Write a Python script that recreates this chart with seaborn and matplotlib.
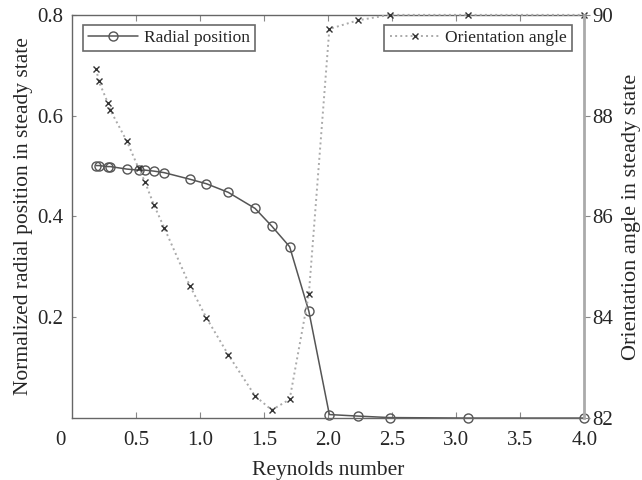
import matplotlib
matplotlib.use("Agg")
import matplotlib.pyplot as plt
import matplotlib.transforms as mtransforms
import seaborn as sns
import pandas as pd

# Reynolds numbers (shared by both series)
reynolds = [0.19, 0.21, 0.28, 0.30, 0.43, 0.52, 0.57, 0.64, 0.72, 0.92, 1.05,
            1.22, 1.43, 1.56, 1.70, 1.85, 2.01, 2.23, 2.48, 3.09, 4.0]
# normalized radial position (left axis)
radial = [0.501, 0.501, 0.499, 0.499, 0.494, 0.492, 0.492, 0.490, 0.487, 0.474, 0.465,
          0.448, 0.416, 0.381, 0.340, 0.212, 0.007, 0.004, 0.001, 0.0, 0.0]
# orientation angle in degrees (right axis)
angle = [88.93, 88.68, 88.26, 88.11, 87.49, 86.96, 86.69, 86.23, 85.78, 84.63, 83.99,
         83.26, 82.44, 82.16, 82.37, 84.46, 89.72, 89.89, 90.0, 90.0, 90.0]

x_ticks = [0.5, 1.0, 1.5, 2.0, 2.5, 3.0, 3.5, 4.0]
x_labels = ["0.5", "1.0", "1.5", "2.0", "2.5", "3.0", "3.5", "4.0"]
y_ticks = [0.2, 0.4, 0.6, 0.8]
y_labels = ["0.2", "0.4", "0.6", "0.8"]
y2_ticks = [82, 84, 86, 88, 90]

df = pd.DataFrame({"Re": reynolds, "radial": radial, "angle": angle})

sns.set_style("ticks")
plt.rcParams["font.family"] = ["Liberation Serif", "DejaVu Serif"]

fig = plt.figure(figsize=(6.42, 4.8), dpi=100)
ax = fig.add_axes([0.112, 0.129, 0.798, 0.840])
ax2 = ax.twinx()

sns.lineplot(data=df, x="Re", y="radial", ax=ax, color="#555555", lw=1.1,
             marker="o", markersize=6.5, markerfacecolor="none",
             markeredgecolor="#555555", markeredgewidth=1.0,
             label="Radial position", clip_on=False)
sns.lineplot(data=df, x="Re", y="angle", ax=ax2, color="#aaaaaa", lw=1.4,
             linestyle=":", marker="x", markersize=5,
             markeredgecolor="#333333", markeredgewidth=1.0,
             label="Orientation angle", clip_on=False)

ax.set_xlim(0, 4.0)
ax.set_ylim(0, 0.8)
ax2.set_ylim(82, 90)
ax.set_xticks(x_ticks)
ax.set_xticklabels(x_labels)
ax.set_yticks(y_ticks)
ax.set_yticklabels(y_labels)
ax2.set_yticks(y2_ticks)

ax.tick_params(axis="x", direction="in", top=True, length=4, color="#888888",
               labelsize=15, pad=9)
ax.tick_params(axis="y", direction="in", length=3, color="#888888", labelsize=15, pad=6)
ax2.tick_params(axis="y", direction="out", length=4, color="#888888", labelsize=15, pad=2)

ax.set_xlabel("Reynolds number", fontsize=15.5, labelpad=8)
ax.set_ylabel("Normalized radial position in steady state", fontsize=15.5, labelpad=3)
ax2.set_ylabel("Orientation angle in steady state", fontsize=16, labelpad=6)

# lone "0" at the corner, in the row of the x tick labels
zero_tr = mtransforms.offset_copy(ax.transAxes, fig=fig, x=-8, y=-9.5, units="points")
ax.text(0, 0, "0", transform=zero_tr, ha="center", va="top", fontsize=15)

for s in ["left", "bottom", "top"]:
    ax.spines[s].set_color("#666666")
    ax.spines[s].set_linewidth(1.0)
    ax2.spines[s].set_visible(False)
ax2.spines["right"].set_color("#aaaaaa")
ax2.spines["right"].set_linewidth(2.0)
ax.spines["right"].set_visible(False)

leg1 = ax.legend(loc="upper left", bbox_to_anchor=(11 / 512, 1 - 10 / 403),
                 borderaxespad=0, fontsize=12.5, frameon=True, fancybox=False,
                 borderpad=0.3, handlelength=2.9, handletextpad=0.3)
leg2 = ax2.legend(loc="upper right", bbox_to_anchor=(1 - 12 / 512, 1 - 10 / 403),
                  borderaxespad=0, fontsize=12.5, frameon=True, fancybox=False,
                  borderpad=0.3, handlelength=2.9, handletextpad=0.3)
for leg in (leg1, leg2):
    leg.get_frame().set_edgecolor("#444444")
    leg.get_frame().set_linewidth(1.2)

fig.savefig("out.png", dpi=100)
